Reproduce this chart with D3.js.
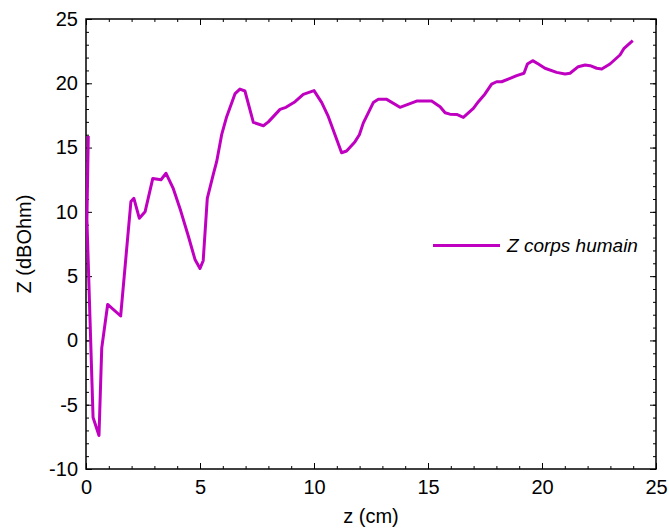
<!DOCTYPE html>
<html><head><meta charset="utf-8">
<script src="https://cdn.jsdelivr.net/npm/d3@7"></script>
<style>body{margin:0;background:#fff}svg{display:block}text{font-family:"Liberation Sans",Arial,sans-serif}</style>
</head><body><svg id="c" width="669" height="531"></svg>
<script>
const zValues = [0.10,0.04,0.31,0.57,0.69,0.95,1.52,1.97,2.10,2.34,2.59,2.93,3.29,3.51,3.83,4.15,4.49,4.78,5.00,5.14,5.32,5.58,5.73,5.95,6.17,6.54,6.75,6.97,7.34,7.78,8.00,8.51,8.77,9.17,9.53,10.00,10.34,10.63,10.92,11.21,11.43,11.80,11.99,12.16,12.60,12.82,13.19,13.77,14.50,15.16,15.53,15.75,15.96,16.26,16.55,16.99,17.21,17.50,17.79,18.01,18.23,18.60,18.89,19.21,19.36,19.59,19.84,20.13,20.64,21.01,21.23,21.59,21.89,22.11,22.40,22.62,22.98,23.42,23.60,23.98];
const ZValues = [15.9,9.4,-6.0,-7.4,-0.6,2.8,1.9,10.8,11.05,9.5,10.0,12.6,12.5,13.0,11.8,10.1,8.1,6.3,5.6,6.2,11.05,12.9,13.9,16.0,17.4,19.2,19.55,19.4,16.96,16.7,17.0,17.97,18.13,18.57,19.14,19.43,18.5,17.4,16.0,14.6,14.73,15.46,16.0,16.9,18.5,18.75,18.75,18.13,18.62,18.62,18.18,17.71,17.6,17.58,17.35,18.05,18.57,19.17,19.94,20.12,20.12,20.39,20.6,20.78,21.5,21.76,21.5,21.17,20.85,20.72,20.78,21.29,21.42,21.37,21.17,21.11,21.5,22.2,22.72,23.31];
const xTicks = [0,5,10,15,20,25];
const yTicks = [-10,-5,0,5,10,15,20,25];
const seriesName = "Z corps humain";
const xLabel = "z (cm)";
const yLabel = "Z (dBOhm)";

const W=669,H=531, m={l:86,t:19,r:13,b:62};
const pw=W-m.l-m.r, ph=H-m.t-m.b;
const svg=d3.select("#c");
const g=svg.append("g").attr("transform",`translate(${m.l},${m.t})`);
const x=d3.scaleLinear().domain([0,25]).range([0,pw]);
const y=d3.scaleLinear().domain([-10,25]).range([ph,0]);
const minorX=d3.range(0,26,1), minorY=d3.range(-10,26,1);
const fs=20;
const fmt=d=>String(d); // hyphen-minus like the reference

function ticks(sel){sel.selectAll("path").remove();sel.selectAll("line").attr("stroke","#000").attr("stroke-width",1);sel.selectAll("text").attr("font-size",fs).attr("fill","#000");}
// minor ticks
g.append("g").attr("transform",`translate(0,${ph})`).call(d3.axisBottom(x).tickValues(minorX).tickSize(-3).tickFormat("")).call(ticks);
g.append("g").call(d3.axisTop(x).tickValues(minorX).tickSize(-3).tickFormat("")).call(ticks);
g.append("g").call(d3.axisLeft(y).tickValues(minorY).tickSize(-3).tickFormat("")).call(ticks);
g.append("g").attr("transform",`translate(${pw},0)`).call(d3.axisRight(y).tickValues(minorY).tickSize(-3).tickFormat("")).call(ticks);
// major ticks
g.append("g").attr("transform",`translate(0,${ph})`).call(d3.axisBottom(x).tickValues(xTicks).tickSize(-6).tickPadding(11).tickFormat(fmt)).call(ticks);
g.append("g").call(d3.axisTop(x).tickValues(xTicks).tickSize(-6).tickFormat("")).call(ticks);
g.append("g").call(d3.axisLeft(y).tickValues(yTicks).tickSize(-6).tickPadding(8).tickFormat(fmt)).call(ticks);
g.append("g").attr("transform",`translate(${pw},0)`).call(d3.axisRight(y).tickValues(yTicks).tickSize(-6).tickFormat("")).call(ticks);

g.append("rect").attr("width",pw).attr("height",ph).attr("fill","none").attr("stroke","#000").attr("stroke-width",1.5);

const data=zValues.map((z,i)=>({z,v:ZValues[i]}));
g.append("path").datum(data).attr("fill","none").attr("stroke","#C000C0").attr("stroke-width",3).attr("stroke-linejoin","round")
 .attr("d",d3.line().x(d=>x(d.z)).y(d=>y(d.v)));

// legend
const lg=svg.append("g");
lg.append("line").attr("x1",433).attr("x2",500).attr("y1",245.5).attr("y2",245.5).attr("stroke","#C000C0").attr("stroke-width",3);
lg.append("text").attr("x",507).attr("y",252).attr("font-size",19).attr("font-style","italic").text(seriesName);

svg.append("text").attr("x",m.l+pw/2).attr("y",523).attr("text-anchor","middle").attr("font-size",fs).text(xLabel);
svg.append("text").attr("transform",`translate(31,${m.t+ph/2}) rotate(-90)`).attr("text-anchor","middle").attr("font-size",fs).text(yLabel);
</script></body></html>
